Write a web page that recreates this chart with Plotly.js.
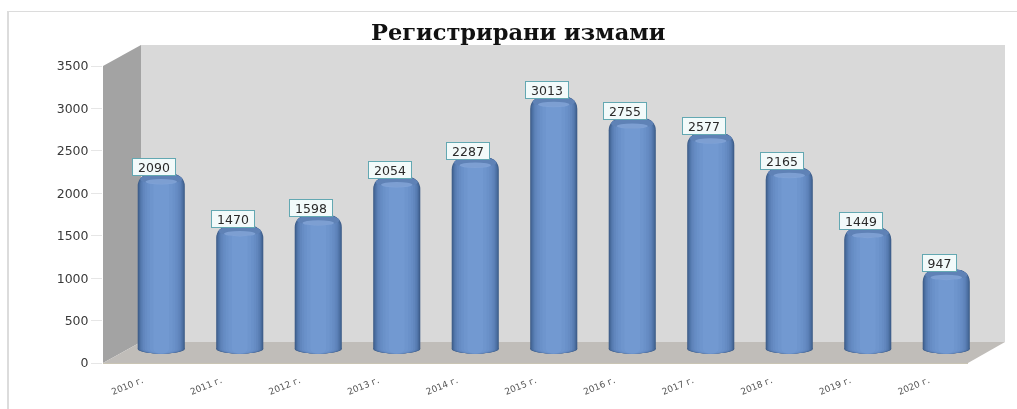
<!DOCTYPE html>
<html><head><meta charset="utf-8">
<script src="https://cdn.plot.ly/plotly-3.0.1.min.js"></script>
<style>html,body{margin:0;padding:0;background:#fff}#c{width:1017px;height:409px;filter:blur(0.6px)}</style>
</head><body><div id="c"></div>
<script>
const categories=["2010 г.","2011 г.","2012 г.","2013 г.","2014 г.","2015 г.","2016 г.","2017 г.","2018 г.","2019 г.","2020 г."];
const values=[2090,1470,1598,2054,2287,3013,2755,2577,2165,1449,947];
const chartTitle="Регистрирани измами";
const yTicks=[0,500,1000,1500,2000,2500,3000,3500];
const layerWidths=[0.60,0.575,0.545,0.51,0.47,0.42,0.36,0.29,0.2];
const layerColors=["#3d5c88","#476a9a","#5175a9","#5a7fb5","#6186bd","#668cc4","#6a91c9","#6e95cd","#7299d1"];

const W=1017,H=409,px=v=>v/W,py=v=>1-v/H;
const traces=[{type:"bar",x:categories,y:values,xaxis:"x",yaxis:"y",marker:{color:"rgba(0,0,0,0)"},hoverinfo:"skip",showlegend:false}];
const shapes=[];
const wall=(path,c)=>shapes.push({type:"path",xref:"paper",yref:"paper",path,fillcolor:c,line:{width:0},layer:"below"});
const poly=pts=>"M"+pts.map(p=>px(p[0])+","+py(p[1])).join("L")+"Z";
wall(poly([[141,45],[1005,45],[1005,342],[141,342]]),"#d9d9d9");
wall(poly([[103,66],[141,45],[141,342],[103,363]]),"#a3a3a3");
wall(poly([[103,363],[968,363],[1005,342],[141,342]]),"#c0bdb9");
[[8,11,1017,12],[7,11,9,409]].forEach(r=>shapes.push({type:"rect",xref:"paper",yref:"paper",x0:px(r[0]),y0:py(r[1]),x1:px(r[2]),y1:py(r[3]),fillcolor:"#dcdcdc",line:{width:0},layer:"below"}));
shapes.push({type:"line",xref:"paper",yref:"paper",x0:px(103),y0:py(363.5),x1:px(968),y1:py(363.5),line:{color:"#c9c4b4",width:1.2},layer:"below"});

layerWidths.forEach((w,k)=>{
  traces.push({type:"bar",x:categories,y:values,xaxis:"x2",yaxis:"y2",width:w,
    marker:{color:layerColors[k],line:{width:0},cornerradius:Math.max(3,12-k)},hoverinfo:"skip",showlegend:false});
  categories.forEach((c,i)=>shapes.push({type:"circle",xref:"x2",yref:"y2",x0:i-w/2,x1:i+w/2,y0:-55,y1:55,fillcolor:layerColors[k],line:{width:0},layer:"below"}));
});
values.forEach((v,i)=>{
  shapes.push({type:"circle",xref:"x2",yref:"y2",x0:i-0.27,x1:i+0.27,y0:v-120,y1:v,fillcolor:"#5f82b6",line:{width:0},layer:"above"});
  shapes.push({type:"circle",xref:"x2",yref:"y2",x0:i-0.2,x1:i+0.2,y0:v-125,y1:v-60,fillcolor:"#84a6da",opacity:0.8,line:{width:0},layer:"above"});
});
const annotations=values.map((v,i)=>({xref:"x2",yref:"y2",x:categories[i],y:v,yanchor:"bottom",yshift:-2,xshift:-7,showarrow:false,
  width:String(v).length*9+4,height:14,
  text:String(v),font:{family:"DejaVu Sans",size:12.5,color:"#2a2a2a"},bgcolor:"#f2fafa",bordercolor:"#63a8b2",borderwidth:1,borderpad:1}));
annotations.push({xref:"paper",yref:"paper",x:px(518),y:py(32),xanchor:"center",yanchor:"middle",showarrow:false,text:"<b>"+chartTitle+"</b>",
  font:{family:"DejaVu Serif",size:22.5,color:"#111"}});
const layout={width:W,height:H,margin:{l:0,r:0,t:0,b:0},paper_bgcolor:"#fff",plot_bgcolor:"rgba(0,0,0,0)",showlegend:false,barmode:"overlay",
  xaxis:{domain:[px(103),px(968)],anchor:"y",type:"category",categoryarray:categories,tickangle:-22,showgrid:false,zeroline:false,showline:false,ticks:"outside",ticklen:8,tickcolor:"rgba(0,0,0,0)",
    tickfont:{family:"DejaVu Sans",size:9,color:"#555"}},
  yaxis:{domain:[py(363),py(66)],anchor:"x",range:[0,3500],tickvals:yTicks,showgrid:false,zeroline:false,showline:false,ticks:"outside",ticklen:11,tickcolor:"#e6e6e6",
    tickfont:{family:"DejaVu Sans",size:12.5,color:"#3a3a3a"}},
  xaxis2:{domain:[px(122),px(985.5)],anchor:"y2",type:"category",categoryarray:categories,visible:false,range:[-0.5,10.5]},
  yaxis2:{domain:[py(359),py(56)],anchor:"x2",range:[-120,3500],visible:false},
  shapes,annotations};
Plotly.newPlot("c",traces,layout,{displayModeBar:false,staticPlot:true});
</script></body></html>
